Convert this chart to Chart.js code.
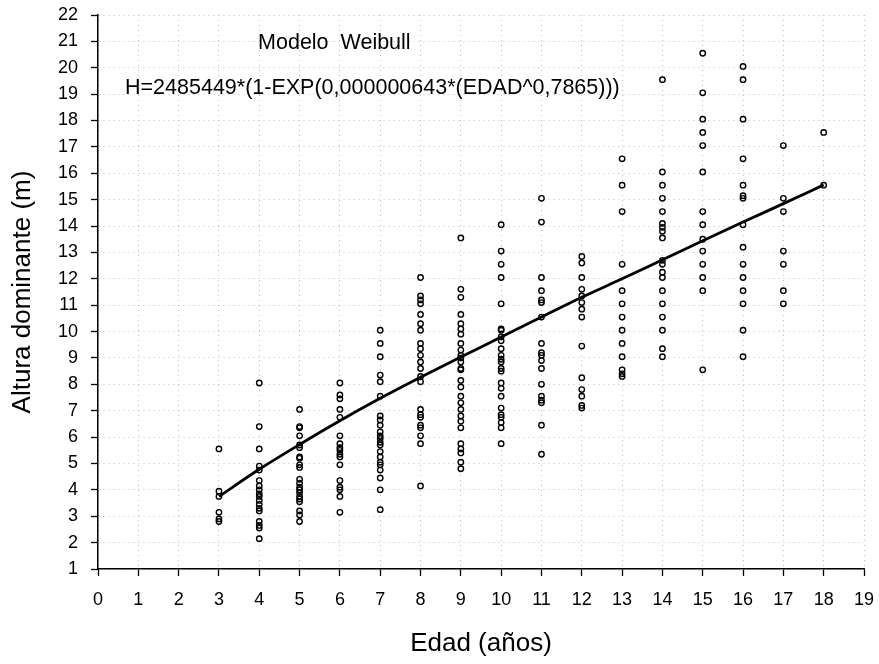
<!DOCTYPE html>
<html>
<head>
<meta charset="utf-8">
<script src="https://cdn.jsdelivr.net/npm/chart.js@4/dist/chart.umd.min.js"></script>
<style>
  html, body { margin: 0; padding: 0; background: #fff; }
  #wrap { width: 879px; height: 664px; }
</style>
</head>
<body>
<div id="wrap"><canvas id="weibullCanvas" width="879" height="664"></canvas></div>
<script>
// observed dominant heights (m) by age (years)
const h3 = [5.55, 3.95, 3.75, 3.15, 2.9, 2.8];
const h4 = [8.05, 6.4, 5.55, 4.9, 4.75, 4.35, 4.15, 4.0, 3.85, 3.75, 3.6, 3.45, 3.3, 3.2, 2.8, 2.65, 2.55, 2.15];
const h5 = [7.05, 6.4, 6.35, 6.05, 5.7, 5.6, 5.25, 5.2, 4.95, 4.85, 4.4, 4.25, 4.1, 4.0, 3.9, 3.75, 3.65, 3.55, 3.2, 3.05, 2.8];
const h6 = [8.05, 7.6, 7.45, 7.05, 6.75, 6.05, 5.75, 5.6, 5.5, 5.35, 5.25, 4.95, 4.35, 4.1, 4.0, 3.75, 3.15];
const h7 = [10.05, 9.55, 9.05, 8.35, 8.1, 7.55, 6.8, 6.65, 6.45, 6.2, 6.05, 5.95, 5.8, 5.7, 5.45, 5.25, 5.05, 4.95, 4.75, 4.45, 4.0, 3.25];
const h8 = [12.05, 11.35, 11.2, 11.05, 10.65, 10.3, 10.05, 9.55, 9.35, 9.1, 8.85, 8.6, 8.3, 8.1, 7.05, 6.85, 6.75, 6.45, 6.35, 6.05, 5.75, 4.15];
const h9 = [13.55, 11.6, 11.3, 10.65, 10.3, 10.1, 9.9, 9.55, 9.3, 9.1, 9.0, 8.85, 8.6, 8.55, 8.15, 7.9, 7.55, 7.3, 7.05, 6.8, 6.6, 6.35, 5.75, 5.55, 5.4, 5.05, 4.8];
const h10 = [14.05, 13.05, 12.55, 12.05, 11.05, 10.1, 10.05, 9.8, 9.65, 9.35, 9.1, 8.95, 8.85, 8.6, 8.5, 8.05, 7.85, 7.55, 7.1, 6.85, 6.75, 6.55, 6.35, 5.75];
const h11 = [15.05, 14.15, 12.05, 11.55, 11.2, 11.1, 10.55, 9.55, 9.2, 9.1, 8.9, 8.6, 8.0, 7.55, 7.4, 7.3, 6.45, 5.35];
const h12 = [12.85, 12.6, 12.05, 11.6, 11.35, 11.1, 10.85, 10.55, 9.45, 8.25, 7.8, 7.55, 7.2, 7.1];
const h13 = [16.55, 15.55, 14.55, 12.55, 11.55, 11.05, 10.55, 10.05, 9.55, 9.05, 8.55, 8.4, 8.3];
const h14 = [19.55, 16.05, 15.55, 15.05, 14.55, 14.1, 13.95, 13.8, 13.55, 12.7, 12.55, 12.25, 12.05, 11.55, 11.05, 10.55, 10.05, 9.35, 9.05];
const h15 = [20.55, 19.05, 18.05, 17.55, 17.05, 16.05, 14.55, 14.05, 13.5, 13.05, 12.55, 12.05, 11.55, 8.55];
const h16 = [20.05, 19.55, 18.05, 16.55, 15.55, 15.15, 15.05, 14.05, 13.2, 12.55, 12.05, 11.55, 11.05, 10.05, 9.05];
const h17 = [17.05, 15.05, 14.55, 13.05, 12.55, 11.55, 11.05];
const h18 = [17.55, 15.55];

const ages = [3, 4, 5, 6, 7, 8, 9, 10, 11, 12, 13, 14, 15, 16, 17, 18];
const heightsByAge = [h3, h4, h5, h6, h7, h8, h9, h10, h11, h12, h13, h14, h15, h16, h17, h18];

// fitted Weibull curve read at each age
const curveAges = [3, 4, 5, 6, 7, 8, 9, 10, 11, 12, 13, 14, 15, 16, 17, 18];
const curveH = [3.75, 4.78, 5.72, 6.62, 7.47, 8.27, 9.04, 9.79, 10.55, 11.3, 12.0, 12.72, 13.44, 14.15, 14.85, 15.56];

const xTicks = [0, 19];
const yTicks = [1, 22];

const titleText = 'Modelo  Weibull';
const formulaText = 'H=2485449*(1-EXP(0,000000643*(EDAD^0,7865)))';

const points = [];
ages.forEach((a, i) => heightsByAge[i].forEach(h => points.push({ x: a, y: h })));

const FONT = "'Liberation Sans', Arial, sans-serif";

const textPlugin = {
  id: 'modelText',
  afterDraw(chart) {
    const { ctx, scales: { x, y } } = chart;
    ctx.save();
    ctx.fillStyle = '#000';
    ctx.font = '21.5px ' + FONT;
    ctx.textBaseline = 'middle';
    ctx.textAlign = 'left';
    ctx.fillText(titleText, x.getPixelForValue(3.97), y.getPixelForValue(20.94));
    ctx.fillText(formulaText, x.getPixelForValue(0.67), y.getPixelForValue(19.23));
    ctx.restore();
  }
};

new Chart(document.getElementById('weibullCanvas'), {
  type: 'scatter',
  data: {
    datasets: [
      {
        type: 'line',
        data: curveAges.map((a, i) => ({ x: a, y: curveH[i] })),
        borderColor: '#000',
        borderWidth: 2.8,
        pointRadius: 0,
        cubicInterpolationMode: 'monotone',
        fill: false
      },
      {
        data: points,
        pointStyle: 'circle',
        pointRadius: 2.7,
        pointBorderWidth: 1.4,
        pointBorderColor: '#000',
        pointBackgroundColor: 'rgba(0,0,0,0)'
      }
    ]
  },
  options: {
    responsive: false,
    animation: false,
    layout: { padding: { top: 15, right: 15, left: 0, bottom: 0 } },
    plugins: {
      legend: { display: false },
      tooltip: { enabled: false }
    },
    scales: {
      x: {
        type: 'linear',
        min: xTicks[0],
        max: xTicks[1],
        afterFit: s => { s.height = 95; s.paddingLeft = 0; s.paddingRight = 0; },
        ticks: { stepSize: 1, color: '#000', padding: 13, font: { family: FONT, size: 18 } },
        grid: { color: '#bdbdbd', lineWidth: 1, tickLength: 7, tickColor: '#000', tickWidth: 1.3 },
        border: { color: '#000', width: 1.5, dash: [1, 4] },
        title: { display: true, text: 'Edad (años)', color: '#000', padding: { top: 0, bottom: 5 }, font: { family: FONT, size: 26 } }
      },
      y: {
        min: yTicks[0],
        max: yTicks[1],
        afterFit: s => { s.width = 98; s.paddingTop = 0; s.paddingBottom = 0; },
        ticks: { stepSize: 1, color: '#000', padding: 13, font: { family: FONT, size: 18 } },
        grid: { color: '#bdbdbd', lineWidth: 1, tickLength: 7, tickColor: '#000', tickWidth: 1.3 },
        border: { color: '#000', width: 1.5, dash: [1, 4] },
        title: { display: true, text: 'Altura dominante (m)', color: '#000', padding: { top: 7, bottom: 0 }, font: { family: FONT, size: 26 } }
      }
    }
  },
  plugins: [textPlugin]
});
</script>
</body>
</html>
